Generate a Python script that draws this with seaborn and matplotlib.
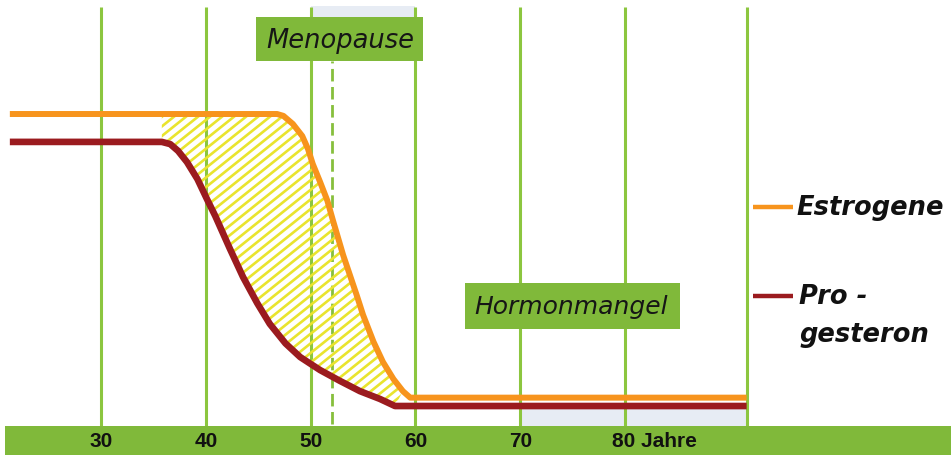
import numpy as np
import pandas as pd
import matplotlib
matplotlib.use("Agg")
import matplotlib.pyplot as plt
from matplotlib.patches import Rectangle
from matplotlib.collections import LineCollection
import seaborn as sns

# ---------------- data ----------------
estrogen_age = [21.3, 46.8, 47.4, 48.3, 49.2, 49.75, 50.2, 50.9, 51.6, 52.1, 53.1, 54.4, 55.0,
                56.0, 56.9, 57.9, 58.8, 59.5, 91.6]
estrogen_level = [100, 100, 99.4, 96.8, 92.9, 88.7, 83.9, 78.1, 72.0, 66.0, 54.5, 41.5, 35.2,
                  26.5, 20.0, 14.5, 10.6, 8.5, 8.5]

progesterone_age = [21.3, 35.8, 36.6, 37.35, 38.2, 39.2, 40.1, 40.9, 42.3, 43.55, 44.9, 46.1,
                    47.6, 49.0, 50.9, 52.8, 54.7, 56.6, 58.05, 91.6]
progesterone_level = [91.0, 91.0, 90.3, 88.1, 84.5, 79.0, 72.6, 67.1, 56.5, 47.4, 39.0, 32.3,
                      26.0, 21.6, 17.4, 13.9, 10.6, 8.1, 5.8, 5.8]

grid_ages = [30, 40, 50, 60, 70, 80, 91.6]
tick_labels = ["30", "40", "50", "60", "70", "80 Jahre"]
menopause_age = 52.0

series_names = ["Estrogene", "Pro -\ngesteron"]

# ---------------- style ----------------
ORANGE = "#f7941d"
RED = "#9b1b1f"
GREEN_BAR = "#80b93a"
GREEN_LINE = "#8cc63f"
YELLOW = "#e9e42e"
LIGHTBLUE = "#e7ecf4"

sns.set_style("white")
plt.rcParams["font.family"] = ["DejaVu Sans"]

fig = plt.figure(figsize=(9.51, 4.56), dpi=100)
ax = fig.add_axes([0, 0, 1, 1])
ax.set_xlim(20.36, 111.1)
ax.set_ylim(-10, 137.1)

# light blue background patches
ax.add_patch(Rectangle((50, 131.3), 10, 3.6, facecolor=LIGHTBLUE, edgecolor="none", zorder=0))
ax.add_patch(Rectangle((70, -0.6), grid_ages[-1] - 70, 5.4, facecolor=LIGHTBLUE,
                       edgecolor="none", zorder=0))

# vertical grid lines
for a in grid_ages:
    ax.plot([a, a], [-0.6, 134.5], color=GREEN_LINE, lw=2.2, zorder=1, solid_capstyle="butt")
ax.plot([menopause_age, menopause_age], [0, 117.1], color="#86bf3c", lw=2.0,
        dashes=(4.5, 2), zorder=1)

# bottom green bar
ax.add_patch(Rectangle((20.8, -10), 111.1 - 20.8, 9.4, facecolor=GREEN_BAR,
                       edgecolor="none", zorder=2))

# hatched area between the curves (diagonal stripes clipped to the region)
x0 = progesterone_age[1]
up = [(a, l) for a, l in zip(estrogen_age, estrogen_level) if x0 < a <= 58.8]
lo = [(a, l) for a, l in zip(progesterone_age, progesterone_level) if x0 <= a <= 58.05]
poly_x = [x0] + [a for a, _ in up] + [a for a, _ in lo[::-1]]
poly_y = [estrogen_level[1]] + [l for _, l in up] + [l for _, l in lo[::-1]]
region = ax.fill(poly_x, poly_y, facecolor="none", edgecolor="none", linewidth=0, zorder=2)[0]

px_per_year = 10.48
px_per_unit = 3.1
slope = (px_per_year / px_per_unit) * 0.8   # ~39 deg on screen
step = 12.0 / px_per_year                    # horizontal stripe spacing (~12 px)
segs = [[(c, 0), (c + 110 / slope, 110)] for c in np.arange(-10, 62, step)]
stripes = LineCollection(segs, colors=YELLOW, linewidths=1.9, zorder=2)
ax.add_collection(stripes)
stripes.set_clip_path(region)

# curves
df_e = pd.DataFrame({"age": estrogen_age, "level": estrogen_level})
df_p = pd.DataFrame({"age": progesterone_age, "level": progesterone_level})
sns.lineplot(data=df_e, x="age", y="level", color=ORANGE, lw=4.3, sort=False,
             estimator=None, ax=ax, zorder=4, legend=False)
sns.lineplot(data=df_p, x="age", y="level", color=RED, lw=4.8, sort=False,
             estimator=None, ax=ax, zorder=3, legend=False)
for ln in ax.get_lines()[-2:]:
    ln.set_solid_joinstyle("round")
    ln.set_solid_capstyle("butt")

# label boxes
ax.add_patch(Rectangle((44.8, 117.1), 60.7 - 44.8, 14.2, facecolor=GREEN_BAR,
                       edgecolor="none", zorder=5))
ax.text(52.8, 124.0, "Menopause", ha="center", va="center", fontsize=18.5,
        style="italic", color="#161616", zorder=6)
ax.add_patch(Rectangle((64.7, 30.6), 85.2 - 64.7, 14.9, facecolor=GREEN_BAR,
                       edgecolor="none", zorder=5))
ax.text(74.9, 38.0, "Hormonmangel", ha="center", va="center", fontsize=18,
        style="italic", color="#161616", zorder=6)

# tick labels in the green bar
tick_font = dict(fontsize=15, fontweight="bold", family=["Liberation Sans", "DejaVu Sans"],
                 color="#111111", zorder=6, va="center")
for a, lab in zip(grid_ages[:5], tick_labels[:5]):
    ax.text(a, -5.3, lab, ha="center", **tick_font)
ax.text(80 - 1.2, -5.3, tick_labels[5], ha="left", **tick_font)

# legend (custom)
leg_font = dict(fontsize=18.5, fontweight="bold", style="italic", color="#111111",
                zorder=6, va="center", ha="left")
ax.plot([92.2, 96.0], [70, 70], color=ORANGE, lw=3.2, solid_capstyle="butt", zorder=6)
ax.text(96.4, 70, series_names[0], **leg_font)
ax.plot([92.2, 96.0], [41.3, 41.3], color=RED, lw=3.2, solid_capstyle="butt", zorder=6)
ax.text(96.6, 41.3, series_names[1].split("\n")[0], **leg_font)
ax.text(96.6, 29.0, series_names[1].split("\n")[1], **leg_font)

ax.set_xlim(20.36, 111.1)
ax.set_ylim(-10, 137.1)
ax.axis("off")

fig.savefig("out.png", dpi=100, facecolor="white")
